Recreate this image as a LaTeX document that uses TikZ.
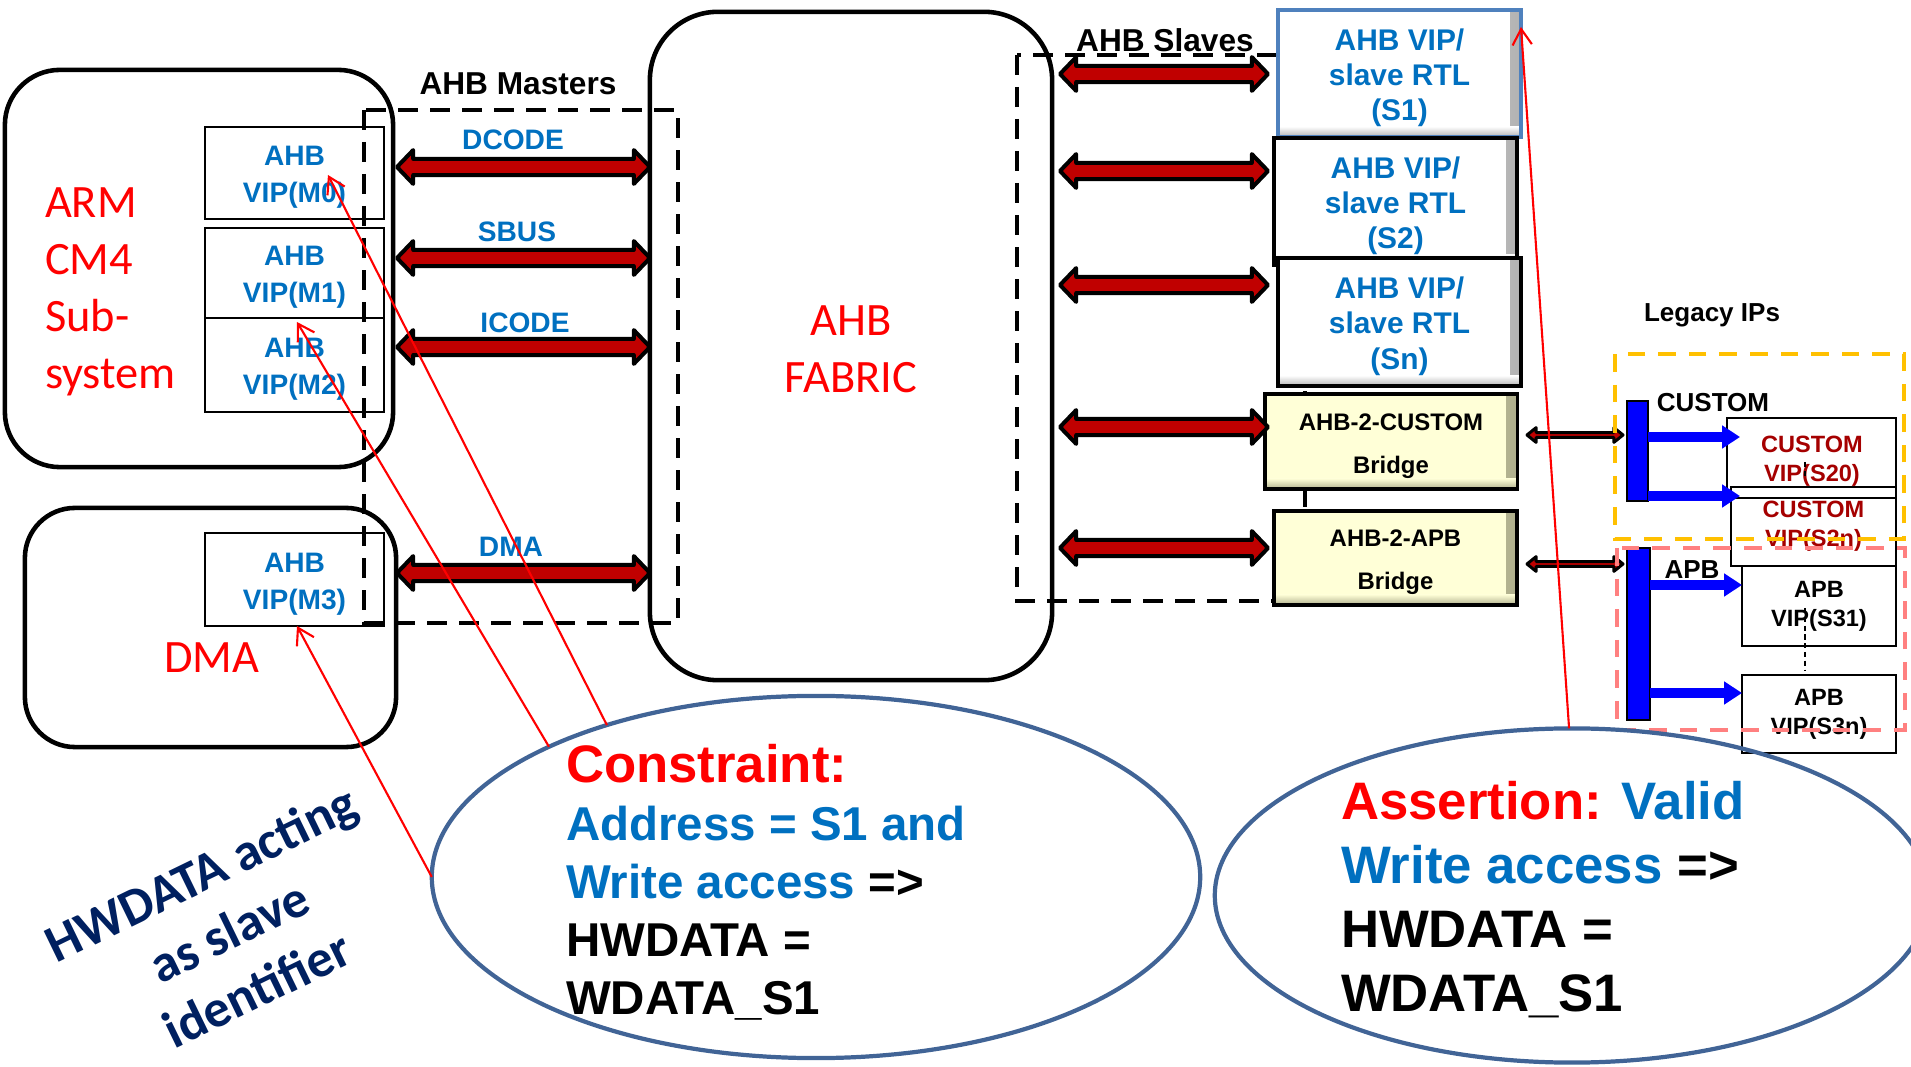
\documentclass[tikz,border=0pt]{standalone}
\usepackage{fontspec}
\setmainfont{Liberation Sans}
\newfontfamily\calfont{Carlito}
\usetikzlibrary{calc,shapes.geometric,arrows.meta}
\definecolor{vipblue}{RGB}{0,112,192}
\definecolor{arrowred}{RGB}{192,0,0}
\definecolor{navy}{RGB}{0,32,96}
\definecolor{ellblue}{RGB}{65,100,150}
\definecolor{custred}{RGB}{165,0,0}
\definecolor{legyellow}{RGB}{255,192,0}
\definecolor{legpink}{RGB}{255,128,128}
\definecolor{bridgefill}{RGB}{255,255,215}
\definecolor{bridgeshade}{RGB}{175,175,140}
\definecolor{s1border}{RGB}{79,129,189}
\newcommand\tstrut[1]{\rule{0pt}{#1}}
\tikzset{
  every node/.style={inner sep=0pt, outer sep=0pt},
  roundbox/.style={draw=black, line width=1.3pt},
  vipbox/.style={draw=black, line width=0.75pt, fill=white, minimum width=1.79cm, align=center,
    text=vipblue, font=\bfseries\fontsize{8}{10.5}\selectfont},
  bigred/.style={text=red, font=\calfont\fontsize{13.2}{16.2}\selectfont},
  hdr/.style={font=\bfseries\fontsize{9}{11}\selectfont},
  buslbl/.style={text=vipblue, font=\bfseries\fontsize{8}{10}\selectfont},
  grpdash/.style={draw=black, line width=1.15pt, dash pattern=on 5.7pt off 3.4pt},
  slvbox/.style={draw=black, line width=0.9pt, fill=white, minimum width=2.43cm, align=center,
    text=vipblue, font=\bfseries\fontsize{8.5}{10}\selectfont,
    path picture={
      \shade[left color=white, right color=black!30] ([xshift=-3pt]path picture bounding box.north east) rectangle (path picture bounding box.south east);
      \shade[top color=white, bottom color=black!30] ([yshift=3pt]path picture bounding box.south west) rectangle (path picture bounding box.south east);}},
  brbox/.style={draw=black, line width=0.9pt, fill=bridgefill, align=center,
    font=\bfseries\fontsize{6.8}{12.2}\selectfont,
    path picture={
      \shade[left color=bridgefill, right color=bridgeshade] ([xshift=-3pt]path picture bounding box.north east) rectangle (path picture bounding box.south east);
      \shade[top color=bridgefill, bottom color=bridgeshade] ([yshift=3pt]path picture bounding box.south west) rectangle (path picture bounding box.south east);}},
  lbl/.style={font=\bfseries\fontsize{7.4}{9}\selectfont},
  legbox/.style={draw=black, line width=0.75pt},
  custtxt/.style={align=center, text=custred, font=\bfseries\fontsize{6.7}{8.3}\selectfont},
  apbtxt/.style={align=center, text=black, font=\bfseries\fontsize{6.7}{8.3}\selectfont},
  busbar/.style={draw=black, line width=0.4pt, fill=blue},
  bigblk/.style={draw=black, fill=arrowred, line width=1.15pt, line join=round,
    to path={let \p1=(\tikztostart), \p2=(\tikztotarget) in
      (\x1,\y1) -- (\x1+4.6pt,\y1+4.8pt) -- (\x1+4.6pt,\y1+2.3pt) -- (\x2-4.6pt,\y1+2.3pt)
      -- (\x2-4.6pt,\y1+4.8pt) -- (\x2,\y1) -- (\x2-4.6pt,\y1-4.8pt) -- (\x2-4.6pt,\y1-2.3pt)
      -- (\x1+4.6pt,\y1-2.3pt) -- (\x1+4.6pt,\y1-4.8pt) -- cycle}},
  smallblk/.style={draw=black, fill=arrowred, line width=0.85pt, line join=round,
    to path={let \p1=(\tikztostart), \p2=(\tikztotarget) in
      (\x1,\y1) -- (\x1+2.6pt,\y1+2.1pt) -- (\x1+2.6pt,\y1+0.7pt) -- (\x2-2.6pt,\y1+0.7pt)
      -- (\x2-2.6pt,\y1+2.1pt) -- (\x2,\y1) -- (\x2-2.6pt,\y1-2.1pt) -- (\x2-2.6pt,\y1-0.7pt)
      -- (\x1+2.6pt,\y1-0.7pt) -- (\x1+2.6pt,\y1-2.1pt) -- cycle}},
  bluearr/.style={draw=blue, line width=2.85pt, -{Triangle[length=5.1pt,width=6.3pt]}},
  redarr/.style={draw=red, line width=0.6pt, -{Straight Barb[length=4.5pt,width=5.5pt]}},
  ell/.style={ellipse, draw=ellblue, line width=1.2pt},
  elltxt/.style={anchor=west, align=left, font=\bfseries\fontsize{15}{16.5}\selectfont},
}
\begin{document}
\begin{tikzpicture}[x=0.01cm,y=-0.01cm]
\useasboundingbox (0,0) rectangle (1911,1067);
\clip (0,0) rectangle (1911,1067);

% containers
\node[roundbox, rounded corners=0.55cm, minimum width=3.88cm, minimum height=3.97cm] (arm) at (199,268.5) {};
\node[roundbox, rounded corners=0.5cm, minimum width=3.71cm, minimum height=2.39cm] (dma) at (210.5,627.5) {};
\node[roundbox, rounded corners=0.68cm, minimum width=4.02cm, minimum height=6.68cm] (fabric) at (851,346) {};

% master VIPs
\node[vipbox, minimum height=0.92cm] (m0) at (294.5,173) {\tstrut{8pt}AHB\\VIP(M0)};
\node[vipbox, minimum height=0.90cm] (m1) at (294.5,273) {\tstrut{8pt}AHB\\VIP(M1)};
\node[vipbox, minimum height=0.94cm] (m2) at (294.5,365) {\tstrut{8pt}AHB\\VIP(M2)};
\node[vipbox, minimum height=0.93cm] (m3) at (294.5,579.5) {\tstrut{8pt}AHB\\VIP(M3)};

% big labels
\node[bigred, anchor=west, align=left] (armlbl) at (45,291.5) {ARM\\CM4\\Sub-\\system};
\node[bigred] (dmalbl) at (212,658) {DMA};
\node[bigred, align=center] (fablbl) at (851,349.5) {AHB\\FABRIC};

% group outlines
\draw[grpdash] (364,110) rectangle (678,623);
\draw[grpdash] (1017,55) rectangle (1305,601);
\node[hdr, anchor=base] (mlbl) at (518,95) {AHB Masters};
\node[hdr, anchor=base] (slbl) at (1165,52) {AHB Slaves};

% master bus arrows
\coordinate (dcA) at (397,167); \coordinate (dcB) at (650,167);
\coordinate (sbA) at (397,258); \coordinate (sbB) at (650,258);
\coordinate (icA) at (397,347); \coordinate (icB) at (650,347);
\coordinate (dmA) at (397,573); \coordinate (dmB) at (650,573);
\draw[bigblk] (dcA) to (dcB);
\draw[bigblk] (sbA) to (sbB);
\draw[bigblk] (icA) to (icB);
\draw[bigblk] (dmA) to (dmB);
\node[buslbl, anchor=base] (dclbl) at (513,150) {DCODE};
\node[buslbl, anchor=base] (sblbl) at (517,242) {SBUS};
\node[buslbl, anchor=base] (iclbl) at (525,333) {ICODE};
\node[buslbl, anchor=base] (dmlbl) at (511,557) {DMA};

% slaves
\node[slvbox, draw=s1border, minimum height=1.27cm] (s1) at (1399.5,73.5) {\tstrut{8.5pt}AHB VIP/\\slave RTL\\(S1)};
\node[slvbox, minimum height=1.27cm] (s2) at (1395.5,201.5) {\tstrut{8.5pt}AHB VIP/\\slave RTL\\(S2)};
\node[slvbox, minimum height=1.28cm] (sn) at (1399.5,322) {\tstrut{8.5pt}AHB VIP/\\slave RTL\\(Sn)};
\node[brbox, minimum width=2.52cm, minimum height=0.95cm] (cbr) at (1391,441.5) {\tstrut{7.2pt}AHB-2-CUSTOM\\Bridge};
\node[brbox, minimum width=2.43cm, minimum height=0.94cm] (abr) at (1395.5,558) {\tstrut{7.2pt}AHB-2-APB\\Bridge};

% slave bus arrows
\coordinate (slaA) at (1060,74);  \coordinate (slaB) at (1268,74);
\coordinate (slbA) at (1060,171); \coordinate (slbB) at (1268,171);
\coordinate (slcA) at (1060,285); \coordinate (slcB) at (1268,285);
\coordinate (sldA) at (1060,427); \coordinate (sldB) at (1268,427);
\coordinate (sleA) at (1060,548); \coordinate (sleB) at (1268,548);
\draw[bigblk] (slaA) to (slaB);
\draw[bigblk] (slbA) to (slbB);
\draw[bigblk] (slcA) to (slcB);
\draw[bigblk] (sldA) to (sldB);
\draw[bigblk] (sleA) to (sleB);

% legacy IPs
\node[lbl, anchor=base] (leg) at (1712,322) {Legacy IPs};
\node[busbar, minimum width=0.21cm, minimum height=1.0cm] (cbus) at (1637.5,451) {};
\node[busbar, minimum width=0.23cm, minimum height=1.72cm] (abus) at (1638.5,634) {};
\node[lbl, anchor=base] (custlbl) at (1713,412) {CUSTOM};
\node[lbl, anchor=base] (apblbl) at (1692,579) {APB};

\node[legbox, minimum width=1.69cm, minimum height=0.80cm] (s20) at (1811.5,458) {};
\node[custtxt] (s20t) at (1812,461.5) {CUSTOM\\VIP(S20)};
\node[legbox, custtxt, minimum width=1.65cm, minimum height=0.79cm] (s2n) at (1813.5,526.5) {CUSTOM\\VIP(S2n)};
\node[legbox, apbtxt, minimum width=1.54cm, minimum height=0.80cm] (s31) at (1819,606) {APB\\VIP(S31)};
\node[legbox, apbtxt, minimum width=1.54cm, minimum height=0.78cm] (s3n) at (1819,714) {APB\\VIP(S3n)};
\draw[black, line width=0.5pt, dash pattern=on 1.5pt off 1pt] (1805,462) -- (1805,478);
\draw[black, line width=0.5pt, dash pattern=on 1.5pt off 1pt] (1805,608) -- (1805,670);

\coordinate (cbA) at (1527,435); \coordinate (cbB) at (1623,435);
\coordinate (abA) at (1527,564); \coordinate (abB) at (1623,564);
\draw[smallblk] (cbA) to (cbB);
\draw[smallblk] (abA) to (abB);

\coordinate (ca1) at (1740,437); \coordinate (ca2) at (1740,496);
\coordinate (aa1) at (1742,585); \coordinate (aa2) at (1742,693);
\draw[bluearr] (cbus.east |- ca1) -- (ca1);
\draw[bluearr] (cbus.east |- ca2) -- (ca2);
\draw[bluearr] (abus.east |- aa1) -- (aa1);
\draw[bluearr] (abus.east |- aa2) -- (aa2);

\draw[draw=legyellow, line width=1.15pt, dash pattern=on 5pt off 3.7pt] (1615,354) rectangle (1904,539);
\draw[draw=legpink, line width=1.15pt, dash pattern=on 5pt off 3.7pt] (1617,548) rectangle (1905,730);

% ellipses
\node[ell, minimum width=7.68cm, minimum height=3.62cm] (cons) at (816,877) {};
\node[ell, minimum width=7.14cm, minimum height=3.34cm] (asrt) at (1572,895.5) {};
\node[elltxt] (constxt) at (566,882.5) {\textcolor{red}{Constraint:}\\\fontsize{13.5}{16.5}\selectfont\textcolor{vipblue}{Address = S1 and}\\\fontsize{13.5}{16.5}\selectfont\textcolor{vipblue}{Write access} =>\\\fontsize{13.5}{16.5}\selectfont HWDATA =\\\fontsize{13.5}{16.5}\selectfont WDATA\_S1};
\node[elltxt, font=\bfseries\fontsize{15}{18.2}\selectfont] (asrttxt) at (1341,900) {\textcolor{red}{Assertion:} \textcolor{vipblue}{Valid}\\\textcolor{vipblue}{Write access} =>\\HWDATA =\\WDATA\_S1};

% note
\node[rotate=25.9, align=center, text=navy, font=\calfont\bfseries\fontsize{15}{18.3}\selectfont] (hwnote) at (229,931) {HWDATA acting\\as slave\\identifier};

% red pointers
\coordinate (m0tip) at (328,175);
\coordinate (m1tip) at (297,322);
\coordinate (m3tip) at (297,626);
\coordinate (s1tip) at (1521,27);
\draw[redarr] (cons.144.3) -- (m0tip);
\draw[redarr] (cons.154.5) -- (m1tip);
\draw[redarr] (cons.180) -- (m3tip);
\draw[redarr] (asrt.91.7) -- (s1tip);
\end{tikzpicture}
\end{document}
